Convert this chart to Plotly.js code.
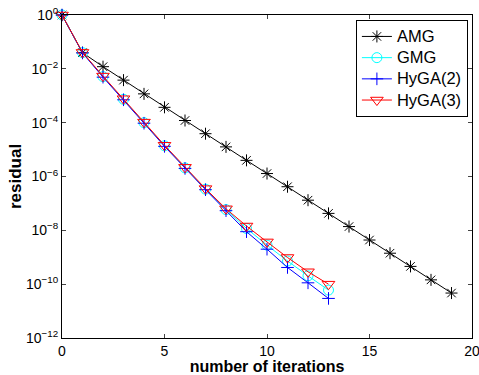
<!DOCTYPE html>
<html><head><meta charset="utf-8">
<script src="https://cdn.plot.ly/plotly-3.0.1.min.js"></script>
<style>html,body{margin:0;padding:0;background:#fff}</style>
</head><body><div id="chart" style="width:479px;height:375px"></div>
<script>
// log10 of residual
const itersAMG = [0,1,2,3,4,5,6,7,8,9,10,11,12,13,14,15,16,17,18,19];
const logAMG = [0,-1.40,-1.92,-2.42,-2.93,-3.43,-3.92,-4.41,-4.90,-5.40,-5.89,-6.38,-6.88,-7.37,-7.86,-8.36,-8.85,-9.34,-9.84,-10.33];
const itersMG = [0,1,2,3,4,5,6,7,8,9,10,11,12,13];
const logGMG = [0,-1.40,-2.29,-3.13,-4.00,-4.86,-5.68,-6.47,-7.23,-7.93,-8.55,-9.14,-9.69,-10.22];
const logHyGA2 = [0,-1.41,-2.31,-3.15,-4.02,-4.88,-5.70,-6.49,-7.27,-8.05,-8.70,-9.38,-9.95,-10.53];
const logHyGA3 = [0,-1.39,-2.27,-3.11,-3.98,-4.84,-5.66,-6.45,-7.20,-7.84,-8.43,-9.01,-9.54,-10.00];
const seriesNames = ['AMG', 'GMG', 'HyGA(2)', 'HyGA(3)'];
const yTickVals = [0,-2,-4,-6,-8,-10,-12];
const yTickText = ['10<sup>0</sup>','10<sup>−2</sup>','10<sup>−4</sup>','10<sup>−6</sup>','10<sup>−8</sup>','10<sup>−10</sup>','10<sup>−12</sup>'];
const xTickVals = [0,5,10,15,20];

const pow = a => a.map(v => Math.pow(10, v));
const font = 'Liberation Sans, Arial, sans-serif';
const lg = n => '<span style="font-size:16.5px">' + n + '</span>';

const traces = [
  {x: itersAMG, y: pow(logAMG), name: lg(seriesNames[0]), mode: 'lines+markers', cliponaxis: false,
   line: {color: '#000', width: 1}, marker: {symbol: 'asterisk-open', size: 10, color: '#000', line: {color: '#000', width: 1}}},
  {x: itersMG, y: pow(logGMG), name: lg(seriesNames[1]), mode: 'lines+markers', cliponaxis: false,
   line: {color: '#00ffff', width: 1}, marker: {symbol: 'circle-open', size: 10, color: '#00ffff', line: {width: 1}}},
  {x: itersMG, y: pow(logHyGA2), name: lg(seriesNames[2]), mode: 'lines+markers', cliponaxis: false,
   line: {color: '#0000ff', width: 1}, marker: {symbol: 'cross-thin-open', size: 9, color: '#0000ff', line: {color: '#0000ff', width: 1}}},
  {x: itersMG, y: pow(logHyGA3), name: lg(seriesNames[3]), mode: 'lines+markers', cliponaxis: false,
   line: {color: '#ff0000', width: 1}, marker: {symbol: 'triangle-down-open', size: 11, color: '#ff0000', line: {width: 1}}}
];

const layout = {
  width: 479, height: 375,
  margin: {l: 62, r: 7, t: 15, b: 37},
  paper_bgcolor: '#fff', plot_bgcolor: '#fff',
  font: {family: font, size: 14, color: '#000'},
  showlegend: true,
  legend: {x: 0.99, y: 0.985, xanchor: 'right', yanchor: 'top', bgcolor: '#fff', bordercolor: '#000', borderwidth: 1,
           font: {family: font, size: 14, color: '#000'}, tracegroupgap: 0, itemwidth: 30},
  xaxis: {range: [0, 20], tickmode: 'array', tickvals: xTickVals, ticks: 'inside', ticklen: 4, ticklabeloverflow: 'allow',
          showgrid: false, zeroline: false, showline: true, linecolor: '#000', linewidth: 1, mirror: 'ticks',
          tickfont: {family: font, size: 14, color: '#000'},
          title: {text: '<b>number of iterations</b>', font: {family: font, size: 16, color: '#000'}, standoff: 3}},
  yaxis: {type: 'log', range: [-12, 0], tickmode: 'array', tickvals: pow(yTickVals), ticktext: yTickText,
          ticks: 'inside', ticklen: 4, showgrid: false, zeroline: false, showline: true, linecolor: '#000', linewidth: 1, mirror: 'ticks',
          tickfont: {family: font, size: 14, color: '#000'},
          title: {text: '<b>residual</b>', font: {family: font, size: 17, color: '#000'}, standoff: 0}}
};
Plotly.newPlot('chart', traces, layout, {displayModeBar: false, staticPlot: true});
</script></body></html>
